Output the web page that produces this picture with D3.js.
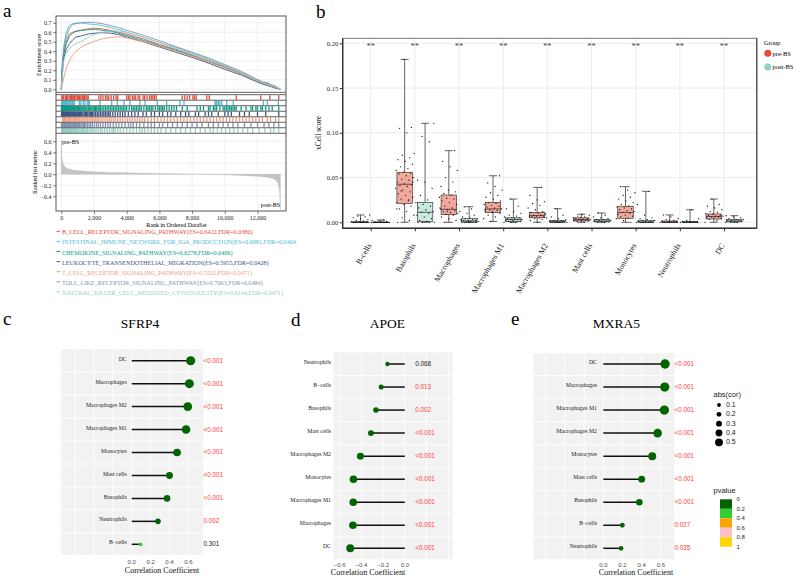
<!DOCTYPE html>
<html><head><meta charset="utf-8">
<script src="https://cdn.jsdelivr.net/npm/d3@7"></script>
<style>body{margin:0;background:#fff}svg{display:block}</style>
</head><body>
<svg id="fig" width="800" height="580"></svg>
<script>
// ================= DATA =================
// Panel a : GSEA
const pathwayNames = ["B_CELL_RECEPTOR_SIGNALING_PATHWAY","INTESTINAL_IMMUNE_NETWORK_FOR_IGA_PRODUCTION","CHEMOKINE_SIGNALING_PATHWAY","LEUKOCYTE_TRANSENDOTHELIAL_MIGRATION","T_CELL_RECEPTOR_SIGNALING_PATHWAY","TOLL_LIKE_RECEPTOR_SIGNALING_PATHWAY","NATURAL_KILLER_CELL_MEDIATED_CYTOTOXICITY"];
const pathwayES = ["0.6422","0.6981","0.6278","0.5955","0.5522","0.7063","0.6144"];
const pathwayFDR = ["0.0380","0.0404","0.0406","0.0428","0.0471","0.0484","0.0471"];
const pathwayColors = ["#E64B35","#4DBBD5","#00A087","#3C5488","#F39B7F","#8491B4","#91D1C2"];
const esRanks = [0,50,150,300,500,700,900,1200,1500,1800,2100,2500,3000,3500,4000,5000,6000,7000,8000,9000,10000,11000,11800,12300,12600,12800,13100,13400];
const esBcell   = [0,0.20,0.38,0.50,0.58,0.60,0.61,0.62,0.63,0.64,0.642,0.635,0.62,0.60,0.58,0.53,0.47,0.42,0.36,0.30,0.24,0.17,0.11,0.07,0.06,0.04,0.02,0];
const esIga     = [0,0.25,0.45,0.60,0.67,0.69,0.695,0.698,0.69,0.685,0.68,0.67,0.65,0.63,0.60,0.55,0.49,0.44,0.38,0.32,0.25,0.18,0.11,0.07,0.07,0.05,0.03,0];
const esChemo   = [0,0.20,0.37,0.48,0.56,0.59,0.61,0.62,0.625,0.627,0.628,0.62,0.61,0.59,0.565,0.515,0.46,0.41,0.35,0.29,0.23,0.16,0.10,0.06,0.045,0.03,0.02,0];
const esLeuko   = [0,0.15,0.33,0.42,0.48,0.52,0.55,0.56,0.575,0.585,0.59,0.595,0.59,0.575,0.55,0.50,0.445,0.39,0.335,0.275,0.21,0.15,0.09,0.055,0.04,0.03,0.01,0];
const esTcell   = [0,0.03,0.12,0.22,0.30,0.36,0.40,0.44,0.47,0.49,0.51,0.53,0.545,0.552,0.54,0.50,0.455,0.40,0.345,0.29,0.225,0.16,0.10,0.065,0.05,0.035,0.02,0];
const esToll    = [0,0.20,0.42,0.55,0.64,0.68,0.69,0.70,0.705,0.706,0.70,0.69,0.67,0.65,0.62,0.57,0.51,0.45,0.39,0.33,0.26,0.19,0.12,0.08,0.07,0.05,0.03,0];
const esNK      = [0,0.12,0.30,0.38,0.43,0.46,0.48,0.50,0.53,0.56,0.58,0.60,0.612,0.614,0.60,0.55,0.49,0.43,0.37,0.31,0.245,0.175,0.11,0.07,0.055,0.04,0.02,0];
const hitsBcell = [30,90,150,260,330,380,480,560,620,700,760,820,900,980,1050,1120,1200,1280,1350,1420,1500,1580,1650,2300,2420,2550,2700,2800,2900,3050,3200,3350,3450,4000,4100,4200,4350,4450,4550,4700,4800,5000,5100,5250,5400,5500,5600,5700,5800,7400,7550,7700,7850,8050,8150,8250,8900,9050,10700,12200,12750,13300];
const hitsIga   = [20,50,80,110,140,180,220,260,300,350,400,460,520,560,600,680,735,800,1100,1200,1345,1450,1600,1650,1713,2367,3080,3425,3835,4200,4813,5120,5872,6446,7260,7505,9400,9450,9500,9603,9700,9810,10116,10520,12355,12600,13273];
const hitsChemo = [10,35,60,85,110,140,170,200,230,265,300,340,380,415,450,485,520,560,600,640,680,720,760,800,850,900,950,1000,1050,1100,1150,1200,1260,1320,1380,1440,1500,1570,1650,1720,1800,1880,1950,2030,2100,2170,2250,2320,2400,2500,2600,2700,2800,2900,3000,3100,3200,3300,3400,3500,3600,3700,3800,3900,4000,4150,4300,4400,4500,4600,4700,4800,4900,5050,5200,5300,5400,5500,5600,5750,5900,6000,6100,6200,6300,6450,6600,6750,6900,7050,7400,7700,8300,8500,8700,9000,9100,9300,9400,9500,9700,9900,10000,10100,10200,10300,10400,10500,10600,10700,11000,11300,11600,11700,11900,12000,12200,12300,12500,12700,12900,13300];
const hitsLeuko = [15,40,70,100,130,165,200,235,270,310,350,390,430,475,520,560,600,650,700,750,800,850,900,950,1000,1060,1120,1180,1250,1320,1400,1470,1550,1620,1700,1780,1850,1920,2000,2100,2200,2300,2400,2500,2600,2700,2800,2900,3000,3150,3300,3450,3600,3750,3900,4100,4300,4500,4700,5000,5200,5500,5700,6000,6200,6500,6700,7000,7300,7600,7800,8200,8400,8800,9000,9200,9600,10000,10200,10400,10900,11200,11500,12000,12500,13300];
const hitsTcell = [80,140,200,270,350,420,500,570,650,720,800,870,950,1020,1100,1200,1300,1400,1500,1600,1700,1800,1900,2000,2100,2200,2300,2430,2550,2680,2800,2930,3050,3180,3300,3450,3600,3750,3900,4050,4200,4350,4500,4650,4800,4950,5100,5300,5500,5700,5900,6100,6300,6500,6700,6900,7100,7300,7500,7700,7900,8100,8300,8500,8700,8900,9100,9300,9500,9700,9900,10100,10300,10500,10700,10900,11100,11300,11500,11700,11900,12100,12300,12600,12800,13100,13300];
const hitsToll  = [10,35,60,90,120,155,190,225,260,300,340,380,420,460,500,550,600,650,700,750,800,860,920,980,1050,1120,1200,1270,1350,1420,1500,1600,1700,1800,1900,2020,2150,2270,2400,2550,2700,2850,3000,3180,3350,3520,3700,3900,4100,4250,4400,4600,4800,5050,5300,5500,5700,6000,6200,6500,6800,7100,7400,7700,8000,8300,8600,9000,9300,9600,9900,10200,10500,10800,11200,11600,12000,12400,12700,13000,13300];
const hitsNK    = [20,50,80,110,140,170,200,240,280,320,360,400,440,480,520,570,620,670,720,770,820,870,920,970,1020,1080,1150,1220,1300,1370,1450,1520,1600,1700,1800,1900,2000,2120,2250,2380,2500,2650,2800,2950,3100,3200,3300,3450,3600,3800,4000,4200,4400,4600,4800,4950,5100,5300,5500,5700,5900,6100,6400,6700,7000,7300,7600,7900,8200,8500,8800,9100,9300,9550,9800,10050,10300,10550,10800,11100,11400,11700,12100,12450,12800,13000,13300];
const metricRanks = [0,20,50,100,200,400,700,1000,1500,2000,3000,4000,5000,6000,7000,8000,9000,10000,11000,12000,12500,12900,13100,13250,13350,13400];
const metricVals  = [0.62,0.45,0.28,0.20,0.14,0.10,0.08,0.07,0.055,0.045,0.035,0.028,0.02,0.014,0.008,0.003,-0.003,-0.01,-0.02,-0.035,-0.05,-0.07,-0.10,-0.16,-0.30,-0.66];
const rankTicks = [0,2000,4000,6000,8000,10000,12000];
const esTicks = [0,0.1,0.2,0.3,0.4,0.5,0.6,0.7];
const metricTicks = [-0.4,-0.2,0,0.2,0.4,0.6];

// Panel b : xCell boxplots
const cellTypes = ["B-cells","Basophils","Macrophages","Macrophages M1","Macrophages M2","Mast cells","Monocytes","Neutrophils","DC"];
const signifLabels = ["**","**","**","**","**","**","**","**","**"];
const groups = ["pre-BS","post-BS"];
const preMin = [0,0,0,0.001,0,0,0,0,0];
const preQ1  = [0,0.0212,0.0085,0.0108,0.005,0.0015,0.0045,0,0.0037];
const preMed = [0,0.0425,0.0145,0.0149,0.0075,0.003,0.011,0.0003,0.0065];
const preQ3  = [0.0005,0.0559,0.0305,0.0223,0.011,0.005,0.018,0.0015,0.0093];
const preMax = [0.0082,0.182,0.080,0.052,0.039,0.009,0.0398,0.0082,0.026];
const postMin = [0,0,0,0,0,0,0,0,0];
const postQ1  = [0,0.001,0.0003,0.001,0,0.0005,0,0,0.0005];
const postMed = [0,0.0112,0.0015,0.003,0.0008,0.0015,0.0005,0.0002,0.0015];
const postQ3  = [0.0002,0.0223,0.004,0.005,0.002,0.003,0.002,0.001,0.003];
const postMax = [0.0026,0.1106,0.0174,0.026,0.0152,0.0104,0.0346,0.014,0.0074];
const prePoints = [
 [0,0,0,0,0,0,0,0,0,0,0,0,0.0005,0.001,0.0015,0.002,0.003,0.004,0.005,0.006,0.007,0.0082,0,0,0.001],
 [0,0.002,0.005,0.008,0.012,0.015,0.018,0.02,0.022,0.024,0.026,0.028,0.03,0.032,0.034,0.036,0.038,0.04,0.041,0.042,0.043,0.045,0.047,0.048,0.05,0.052,0.054,0.055,0.056,0.058,0.06,0.062,0.065,0.068,0.07,0.072,0.075,0.077,0.1,0.105,0.106,0.182,0.015,0.025,0.035,0.045],
 [0,0.002,0.004,0.006,0.008,0.009,0.01,0.011,0.012,0.013,0.014,0.015,0.016,0.018,0.02,0.022,0.024,0.026,0.027,0.028,0.03,0.032,0.034,0.036,0.04,0.045,0.05,0.058,0.062,0.068,0.08,0.012,0.016],
 [0.001,0.004,0.006,0.008,0.01,0.011,0.012,0.013,0.014,0.015,0.016,0.017,0.018,0.019,0.02,0.021,0.022,0.024,0.026,0.028,0.03,0.033,0.036,0.04,0.044,0.052,0.012,0.014],
 [0,0.002,0.003,0.004,0.005,0.005,0.006,0.006,0.007,0.007,0.008,0.008,0.009,0.01,0.011,0.012,0.014,0.016,0.019,0.021,0.023,0.025,0.03,0.039],
 [0,0.001,0.0015,0.002,0.002,0.0025,0.003,0.003,0.0035,0.004,0.004,0.005,0.005,0.006,0.007,0.008,0.009],
 [0,0.002,0.004,0.005,0.006,0.007,0.008,0.009,0.01,0.011,0.012,0.013,0.014,0.015,0.016,0.017,0.018,0.02,0.022,0.024,0.026,0.028,0.03,0.033,0.036,0.0398],
 [0,0,0,0,0,0,0.0003,0.0005,0.001,0.001,0.0015,0.002,0.003,0.004,0.006,0.0082],
 [0,0.002,0.003,0.004,0.005,0.005,0.006,0.006,0.007,0.007,0.008,0.008,0.009,0.01,0.011,0.012,0.014,0.016,0.018,0.02,0.026]
];
const postPoints = [
 [0,0,0,0,0,0,0,0,0,0,0.0005,0.001,0.0015,0.002,0.0026],
 [0,0,0,0,0.001,0.002,0.004,0.006,0.008,0.01,0.011,0.012,0.014,0.016,0.018,0.02,0.022,0.025,0.03,0.038,0.045,0.047,0.09,0.096,0.1106],
 [0,0,0,0,0,0.0005,0.001,0.001,0.0015,0.002,0.002,0.003,0.003,0.004,0.004,0.005,0.006,0.008,0.01,0.012,0.015,0.0174,0,0.001,0.002],
 [0,0,0,0.001,0.001,0.002,0.002,0.003,0.003,0.003,0.004,0.004,0.005,0.005,0.006,0.007,0.008,0.01,0.012,0.015,0.018,0.026],
 [0,0,0,0,0,0,0.0005,0.001,0.001,0.0015,0.002,0.002,0.003,0.004,0.006,0.008,0.0152],
 [0,0,0.0005,0.001,0.001,0.0015,0.002,0.002,0.003,0.003,0.004,0.005,0.006,0.008,0.0104],
 [0,0,0,0,0,0,0.0005,0.001,0.001,0.002,0.002,0.003,0.004,0.005,0.008,0.02,0.0346],
 [0,0,0,0,0,0,0,0,0.0002,0.0005,0.001,0.001,0.002,0.004,0.014],
 [0,0,0.0005,0.001,0.001,0.0015,0.002,0.002,0.003,0.003,0.004,0.005,0.006,0.0074]
];
const xcellTicks = [0,0.05,0.10,0.15,0.20];

// Panels c/d/e : lollipops
const sfrp4Cells = ["DC","Macrophages","Macrophages M2","Macrophages M1","Monocytes","Mast cells","Basophils","Neutrophils","B\u2212cells"];
const sfrp4Cor   = [0.624,0.61,0.593,0.575,0.48,0.40,0.374,0.278,0.095];
const sfrp4P     = [0.0001,0.0001,0.0001,0.0001,0.0001,0.0001,0.0001,0.002,0.301];
const sfrp4PLab  = ["<0.001","<0.001","<0.001","<0.001","<0.001","<0.001","<0.001","0.002","0.301"];
const apoeCells  = ["Neutrophils","B\u2212cells","Basophils","Mast cells","Macrophages M2","Monocytes","Macrophages M1","Macrophages","DC"];
const apoeCor    = [-0.16,-0.218,-0.266,-0.312,-0.409,-0.473,-0.475,-0.478,-0.503];
const apoeP      = [0.068,0.013,0.002,0.0001,0.0001,0.0001,0.0001,0.0001,0.0001];
const apoePLab   = ["0.068","0.013","0.002","<0.001","<0.001","<0.001","<0.001","<0.001","<0.001"];
const mxra5Cells = ["DC","Macrophages","Macrophages M1","Macrophages M2","Monocytes","Mast cells","Basophils","B\u2212cells","Neutrophils"];
const mxra5Cor   = [0.643,0.64,0.636,0.566,0.51,0.40,0.375,0.198,0.185];
const mxra5P     = [0.0001,0.0001,0.0001,0.0001,0.0001,0.0001,0.0001,0.027,0.035];
const mxra5PLab  = ["<0.001","<0.001","<0.001","<0.001","<0.001","<0.001","<0.001","0.027","0.035"];
const sizeBreaks = [0.1,0.2,0.3,0.4,0.5];
const pBins = [0,0.2,0.4,0.6,0.8,1];
const pColors = ["#006400","#32CD32","#FFA500","#FFC0CB","#FFD700"];
const corTicksPos = [0,0.2,0.4,0.6];
const corTicksNeg = [-0.6,-0.4,-0.2,0];

// ================= DRAW =================
const SERIF = "Liberation Serif, Times New Roman, serif";
const SANS = "Liberation Sans, Arial, sans-serif";
const svg = d3.select("#fig");
const defs = svg.append("defs");

function txt(g, x, y, s, o = {}) {
  return g.append("text").attr("x", x).attr("y", y).text(s)
    .style("font-family", o.ff || SERIF).attr("font-size", o.fs || 7)
    .attr("fill", o.fill || "#000").attr("text-anchor", o.anchor || "start")
    .attr("dominant-baseline", o.db || "alphabetic");
}

// panel letters
[["a",3,17],["b",316,18],["c",3,325],["d",291,326],["e",511,325]].forEach(([l,x,y]) =>
  txt(svg, x, y, l, {fs: 19}));

// ---------- Panel a ----------
(function(){
  const g = svg.append("g");
  const L = 56, R = 286, esTop = 16, esBot = 92.3, hitTop = 94.7, rowH = 5.51, rkTop = 133.3, rkBot = 211;
  const x = d3.scaleLinear().domain([-324, 13743]).range([L, R]);
  const yES = d3.scaleLinear().domain([0, 0.7]).range([89.3, 22.7]);
  const yRk = d3.scaleLinear().domain([0, 0.6]).range([174.3, 141.3]);
  const grid = "#E6E6E6";
  rankTicks.forEach(t => {
    g.append("line").attr("x1", x(t)).attr("x2", x(t)).attr("y1", esTop).attr("y2", esBot).attr("stroke", grid).attr("stroke-width", 0.6);
    g.append("line").attr("x1", x(t)).attr("x2", x(t)).attr("y1", rkTop).attr("y2", rkBot).attr("stroke", grid).attr("stroke-width", 0.6);
  });
  esTicks.forEach(t => g.append("line").attr("x1", L).attr("x2", R).attr("y1", yES(t)).attr("y2", yES(t)).attr("stroke", grid).attr("stroke-width", 0.6));
  metricTicks.forEach(t => g.append("line").attr("x1", L).attr("x2", R).attr("y1", yRk(t)).attr("y2", yRk(t)).attr("stroke", grid).attr("stroke-width", 0.6));
  const area = d3.area().x((d,i) => x(metricRanks[i])).y0(yRk(0)).y1(d => yRk(d));
  g.append("path").datum(metricVals).attr("d", area).attr("fill", "#C4C4C4").attr("stroke", "#B0B0B0").attr("stroke-width", 0.3);
  txt(g, 62, 143.5, "pre-BS", {fs: 6});
  txt(g, 280, 206.5, "post-BS", {fs: 6, anchor: "end"});
  const esSeries = [esBcell, esIga, esChemo, esLeuko, esTcell, esToll, esNK];
  const line = d3.line().x((d,i) => x(esRanks[i])).y(d => yES(d));
  esSeries.forEach((s, k) => g.append("path").datum(s).attr("d", line).attr("fill", "none")
    .attr("stroke", pathwayColors[k]).attr("stroke-width", 0.9));
  const hits = [hitsBcell, hitsIga, hitsChemo, hitsLeuko, hitsTcell, hitsToll, hitsNK];
  hits.forEach((h, k) => {
    const y0 = hitTop + k * rowH;
    g.append("g").selectAll("line").data(h).join("line")
      .attr("x1", d => x(d)).attr("x2", d => x(d)).attr("y1", y0 + 0.5).attr("y2", y0 + rowH - 0.5)
      .attr("stroke", pathwayColors[k]).attr("stroke-width", 1.3);
  });
  for (let k = 0; k <= 7; k++) {
    const yy = hitTop + k * rowH;
    g.append("line").attr("x1", L).attr("x2", R).attr("y1", yy).attr("y2", yy).attr("stroke", "#3a3a3a").attr("stroke-width", 0.8);
  }
  g.append("line").attr("x1", L).attr("x2", R).attr("y1", esBot).attr("y2", esBot).attr("stroke", "#3a3a3a").attr("stroke-width", 0.8);
  g.append("rect").attr("x", L).attr("y", esTop).attr("width", R - L).attr("height", rkBot - esTop)
    .attr("fill", "none").attr("stroke", "#444").attr("stroke-width", 0.9);
  const styleAxis = (sel, fs) => {
    sel.select(".domain").remove();
    sel.selectAll(".tick line").attr("stroke", "#333").attr("stroke-width", 0.6);
    sel.selectAll(".tick text").style("font-family", SERIF).attr("font-size", fs).attr("fill", "#222");
  };
  g.append("g").attr("transform", `translate(${L},0)`)
    .call(d3.axisLeft(yES).tickValues(esTicks).tickFormat(d3.format(".1f")).tickSize(3).tickPadding(1.5))
    .call(s => styleAxis(s, 6));
  g.append("g").attr("transform", `translate(${L},0)`)
    .call(d3.axisLeft(yRk).tickValues(metricTicks).tickFormat(d3.format(".1f")).tickSize(3).tickPadding(1.5))
    .call(s => styleAxis(s, 6));
  g.append("g").attr("transform", `translate(0,${rkBot})`)
    .call(d3.axisBottom(x).tickValues(rankTicks).tickFormat(d3.format(",")).tickSize(3).tickPadding(1.5))
    .call(s => styleAxis(s, 6));
  txt(g, 0, 0, "Enrichment score", {fs: 6, anchor: "middle"}).attr("transform", "translate(41,55) rotate(-90)");
  txt(g, 0, 0, "Ranked list metric", {fs: 6, anchor: "middle"}).attr("transform", "translate(37,172) rotate(-90)");
  txt(g, 176.5, 227, "Rank in Ordered DataSet", {fs: 6, anchor: "middle"});
  defs.append("clipPath").attr("id", "legclip").append("rect").attr("x", 0).attr("y", 220).attr("width", 296.5).attr("height", 90);
  const lg = g.append("g").attr("clip-path", "url(#legclip)");
  const items = pathwayNames.map((n, k) => {
    const yy = 232.3 + k * 10.1;
    lg.append("line").attr("x1", 56.5).attr("x2", 60).attr("y1", yy - 1).attr("y2", yy - 1).attr("stroke", pathwayColors[k]).attr("stroke-width", 1);
    return txt(lg, 62, yy + 2, `${n}(ES=${pathwayES[k]},FDR=${pathwayFDR[k]})`, {fs: 6.1, fill: pathwayColors[k]});
  });
  // scale legend font so the first entry spans the same width as in the figure
  const w0 = items[0].node().getComputedTextLength();
  if (w0 > 0) { const fs = 6.1 * 191 / w0; items.forEach(t => t.attr("font-size", fs)); }
})();

// ---------- Panel b ----------
(function(){
  const g = svg.append("g");
  const L = 342.7, R = 756.7, T = 38.3, B = 228.3;
  const x = d3.scalePoint().domain(cellTypes).range([370.7, 724]);
  const y = d3.scaleLinear().domain([0, 0.2]).range([222.3, 43.3]);
  const grid = "#E4E4E4";
  cellTypes.forEach(c => g.append("line").attr("x1", x(c)).attr("x2", x(c)).attr("y1", T).attr("y2", B).attr("stroke", grid).attr("stroke-width", 0.7));
  xcellTicks.forEach(t => g.append("line").attr("x1", L).attr("x2", R).attr("y1", y(t)).attr("y2", y(t)).attr("stroke", grid).attr("stroke-width", 0.7));
  const off = 10.2, bw = 15.5, cap = 8;
  const fills = ["#F3A89D", "#C9E9E1"];
  const stats = [[preMin, preQ1, preMed, preQ3, preMax], [postMin, postQ1, postMed, postQ3, postMax]];
  const pts = [prePoints, postPoints];
  [0, 1].forEach(gi => {
    const [mn, q1, md, q3, mx] = stats[gi];
    cellTypes.forEach((c, i) => {
      const cx = x(c) + (gi === 0 ? -off : off);
      const bg = g.append("g");
      bg.append("line").attr("x1", cx).attr("x2", cx).attr("y1", y(mx[i])).attr("y2", y(mn[i])).attr("stroke", "#222").attr("stroke-width", 0.7);
      [mx[i], mn[i]].forEach(v => bg.append("line").attr("x1", cx - cap/2).attr("x2", cx + cap/2).attr("y1", y(v)).attr("y2", y(v)).attr("stroke", "#222").attr("stroke-width", 0.7));
      bg.append("rect").attr("x", cx - bw/2).attr("y", y(q3[i])).attr("width", bw).attr("height", Math.max(0.6, y(q1[i]) - y(q3[i])))
        .attr("fill", fills[gi]).attr("stroke", "#222").attr("stroke-width", 0.6);
      bg.append("line").attr("x1", cx - bw/2).attr("x2", cx + bw/2).attr("y1", y(md[i])).attr("y2", y(md[i])).attr("stroke", "#222").attr("stroke-width", 0.7);
      bg.selectAll("circle").data(pts[gi][i]).join("circle")
        .attr("cx", (d, j) => cx + (((j * 0.6180339887 + 0.13 * i) % 1) - 0.5) * 19)
        .attr("cy", d => y(d)).attr("r", 0.65).attr("fill", "#111");
    });
  });
  g.append("rect").attr("x", L).attr("y", T).attr("width", R - L).attr("height", B - T).attr("fill", "none").attr("stroke", "#777").attr("stroke-width", 1);
  g.append("line").attr("x1", R).attr("x2", R).attr("y1", T).attr("y2", B).attr("stroke", "#555").attr("stroke-width", 1.4);
  g.append("path").attr("d", `M${L},${T}V${B}H${R}`).attr("fill", "none").attr("stroke", "#333").attr("stroke-width", 1.4);
  const ya = g.append("g").attr("transform", `translate(${L},0)`)
    .call(d3.axisLeft(y).tickValues(xcellTicks).tickFormat(d3.format(".2f")).tickSize(3).tickPadding(1.5));
  ya.select(".domain").remove();
  ya.selectAll(".tick line").attr("stroke", "#333");
  ya.selectAll(".tick text").style("font-family", SERIF).attr("font-size", 6.5).attr("fill", "#222");
  const xa = g.append("g").attr("transform", `translate(0,${B})`)
    .call(d3.axisBottom(x).tickSize(3).tickFormat(""));
  xa.select(".domain").remove();
  xa.selectAll(".tick line").attr("stroke", "#333");
  cellTypes.forEach(c => txt(g, 0, 0, c, {fs: 8, anchor: "end", fill: "#222"})
    .attr("transform", `translate(${x(c) + 1},${B + 17}) rotate(-60)`));
  txt(g, 0, 0, "xCell score", {fs: 7.5, anchor: "middle"}).attr("transform", "translate(321,133) rotate(-90)");
  cellTypes.forEach((c, i) => txt(g, x(c), 49, signifLabels[i], {fs: 8.5, anchor: "middle", fill: "#444"}));
  txt(g, 764, 45, "Group", {fs: 6.5});
  const lc = ["#E64B35", "#91D1C2"];
  groups.forEach((gr, k) => {
    g.append("circle").attr("cx", 767.8).attr("cy", 53.3 + k * 13.7).attr("r", 3.5).attr("fill", lc[k]);
    txt(g, 772.5, 55.5 + k * 13.7, gr, {fs: 6.5});
  });
})();

// ---------- Panels c,d,e ----------
const sizeScale = d3.scaleLinear().domain([0.1, 0.65]).range([1.9, 4.7]);
const pColor = d3.scaleThreshold().domain([0.2, 0.4, 0.6, 0.8]).range(pColors);
function lollipop(cfg) {
  const g = svg.append("g");
  const x = d3.scaleLinear().domain([0, 0.2]).range([cfg.x0, cfg.x0 + cfg.step]);
  const y = d3.scalePoint().domain(cfg.cells).range([cfg.yFirst, cfg.yLast]);
  const half = (cfg.yLast - cfg.yFirst) / (cfg.cells.length - 1) / 2;
  g.append("rect").attr("x", cfg.bgL).attr("y", cfg.bgT).attr("width", cfg.bgR - cfg.bgL).attr("height", cfg.bgB - cfg.bgT).attr("fill", "#F2F2F2");
  [-0.6, -0.4, -0.2, 0, 0.2, 0.4, 0.6].forEach(t => {
    const xx = x(t);
    if (xx > cfg.bgL && xx < cfg.bgR)
      g.append("line").attr("x1", xx).attr("x2", xx).attr("y1", cfg.bgT).attr("y2", cfg.bgB).attr("stroke", "#fff").attr("stroke-width", 0.9);
  });
  cfg.cells.forEach((c, i) => {
    if (i > 0) {
      const yy = y(c) - half;
      g.append("line").attr("x1", cfg.bgL).attr("x2", cfg.bgR).attr("y1", yy).attr("y2", yy).attr("stroke", "#fff").attr("stroke-width", 0.9);
    }
  });
  cfg.cells.forEach((c, i) => {
    const yy = y(c);
    g.append("line").attr("x1", x(0)).attr("x2", x(cfg.cor[i])).attr("y1", yy).attr("y2", yy).attr("stroke", "#111").attr("stroke-width", 1.5);
    g.append("circle").attr("cx", x(cfg.cor[i])).attr("cy", yy).attr("r", sizeScale(Math.abs(cfg.cor[i]))).attr("fill", pColor(cfg.p[i]));
    txt(g, cfg.labX, yy - 1.2, c, {fs: 5.8, anchor: "end", fill: "#222", db: "middle"});
    txt(g, cfg.pX, yy + 0.3, cfg.pLab[i], {ff: SANS, fs: 6.3, fill: cfg.p[i] < 0.05 ? "#FF3B3B" : "#222", db: "middle"});
  });
  cfg.ticks.forEach(t => txt(g, x(t), cfg.tickY, d3.format(".1f")(t), {ff: SANS, fs: 6, anchor: "middle", fill: "#4D4D4D", db: "middle"}));
  txt(g, cfg.titleX, cfg.axTitleY, "Correlation Coefficient", {fs: 8, anchor: "middle", db: "middle", fill: "#111"});
  txt(g, cfg.titleX2, 328.3, cfg.title, {fs: 13.5, anchor: "middle"});
}
lollipop({cells: sfrp4Cells, cor: sfrp4Cor, p: sfrp4P, pLab: sfrp4PLab, title: "SFRP4",
  x0: 131.7, step: 18.9, yFirst: 360.7, yLast: 544.3, bgL: 61, bgR: 203.3, bgT: 349, bgB: 555,
  labX: 126.7, pX: 203.5, ticks: corTicksPos, tickY: 562.3, axTitleY: 570.7, titleX: 162, titleX2: 140});
lollipop({cells: apoeCells, cor: apoeCor, p: apoeP, pLab: apoePLab, title: "APOE",
  x0: 404.8, step: 21.7, yFirst: 364, yLast: 548.3, bgL: 333.3, bgR: 452.7, bgT: 352.3, bgB: 559.3,
  labX: 331, pX: 415.3, ticks: corTicksNeg, tickY: 565.5, axTitleY: 573.5, titleX: 368, titleX2: 387.5});
lollipop({cells: mxra5Cells, cor: mxra5Cor, p: mxra5P, pLab: mxra5PLab, title: "MXRA5",
  x0: 603.3, step: 19.2, yFirst: 364, yLast: 548.3, bgL: 533.3, bgR: 674.3, bgT: 353.3, bgB: 559.3,
  labX: 597, pX: 674.5, ticks: corTicksPos, tickY: 565.5, axTitleY: 573.5, titleX: 636, titleX2: 616.3});

(function(){
  const g = svg.append("g");
  txt(g, 713.5, 396.5, "abs(cor)", {ff: SANS, fs: 7.5, fill: "#222"});
  sizeBreaks.forEach((b, i) => {
    const yy = 405 + i * 9.33;
    g.append("circle").attr("cx", 719).attr("cy", yy).attr("r", sizeScale(b)).attr("fill", "#000");
    txt(g, 726, yy + 0.3, String(b), {ff: SANS, fs: 7, fill: "#222", db: "middle"});
  });
  txt(g, 713.5, 493, "pvalue", {ff: SANS, fs: 7.5, fill: "#222"});
  const yb = d3.scaleLinear().domain([0, 1]).range([499.3, 546.7]);
  pColors.forEach((c, i) => g.append("rect").attr("x", 720).attr("y", yb(pBins[i])).attr("width", 12).attr("height", yb(pBins[i+1]) - yb(pBins[i])).attr("fill", c));
  pBins.forEach(b => txt(g, 736.5, yb(b) + 0.3, String(b), {ff: SANS, fs: 6, fill: "#222", db: "middle"}));
})();
</script>
</body></html>
